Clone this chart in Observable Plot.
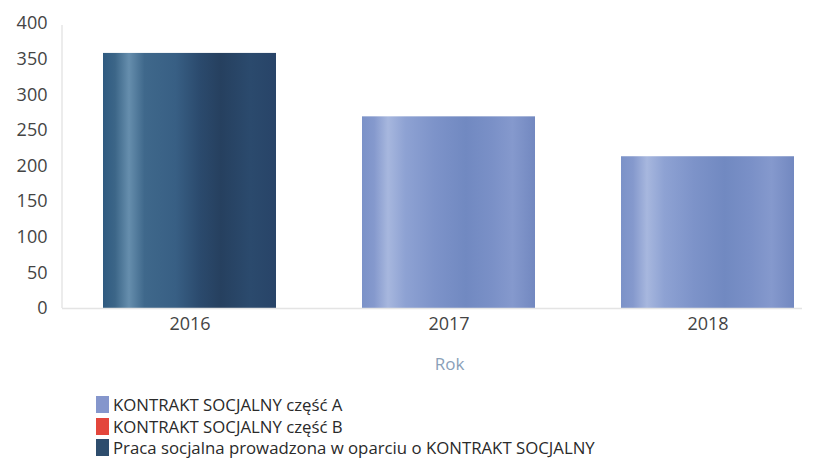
<!DOCTYPE html>
<html>
<head>
<meta charset="utf-8">
<script src="https://cdn.jsdelivr.net/npm/d3@7"></script>
<script src="https://cdn.jsdelivr.net/npm/@observablehq/plot@0.6"></script>
<style>
  html, body { margin: 0; padding: 0; background: #fff; }
  body { width: 822px; height: 461px; overflow: hidden; font-family: "Open Sans", sans-serif; }
  #legend { position: absolute; left: 96px; top: 394px; }
  .item { display: flex; align-items: center; height: 21.5px; font-size: 16.8px; color: #2a2a2a; }
  .sw { width: 13px; height: 17px; margin-right: 4px; }
</style>
</head>
<body>
<svg width="0" height="0" style="position:absolute">
  <defs>
    <linearGradient id="gPraca" x1="0" x2="1" y1="0" y2="0">
      <stop offset="0" stop-color="#2f5a80"/>
      <stop offset="0.07" stop-color="#3c6688"/>
      <stop offset="0.15" stop-color="#668ead"/>
      <stop offset="0.24" stop-color="#3f688b"/>
      <stop offset="0.42" stop-color="#385f84"/>
      <stop offset="0.56" stop-color="#2b4a6d"/>
      <stop offset="0.68" stop-color="#26405f"/>
      <stop offset="0.85" stop-color="#2b4a6d"/>
      <stop offset="1" stop-color="#284468"/>
    </linearGradient>
    <linearGradient id="gA" x1="0" x2="1" y1="0" y2="0">
      <stop offset="0" stop-color="#7b92c8"/>
      <stop offset="0.07" stop-color="#8599cd"/>
      <stop offset="0.15" stop-color="#a7b7de"/>
      <stop offset="0.25" stop-color="#8ea2d3"/>
      <stop offset="0.42" stop-color="#7d93c9"/>
      <stop offset="0.6" stop-color="#7189c1"/>
      <stop offset="0.75" stop-color="#7a90c7"/>
      <stop offset="0.87" stop-color="#8599cd"/>
      <stop offset="1" stop-color="#7288c0"/>
    </linearGradient>
  </defs>
</svg>
<div id="chart"></div>
<div id="legend"></div>
<script>
const years = ["2016", "2017", "2018"];
const seriesNames = [
  "KONTRAKT SOCJALNY część A",
  "KONTRAKT SOCJALNY część B",
  "Praca socjalna prowadzona w oparciu o KONTRAKT SOCJALNY"
];
const seriesColors = ["#8596cc", "#e3463c", "#2e4d6d"];
const seriesFills = ["url(#gA)", "#e3463c", "url(#gPraca)"];
const valuesA = [null, 269, 213];
const valuesB = [null, null, null];
const valuesPraca = [358, null, null];
const yTicks = [0, 50, 100, 150, 200, 250, 300, 350, 400];

const allValues = [valuesA, valuesB, valuesPraca];
const rows = [];
allValues.forEach((vals, si) => {
  vals.forEach((v, i) => {
    if (v != null) rows.push({year: years[i], series: seriesNames[si], si, value: v});
  });
});

const barMarks = seriesNames.map((name, si) =>
  Plot.barY(rows.filter(d => d.si === si), {x: "year", y: "value", fill: seriesFills[si]})
);

const chart = Plot.plot({
  width: 822,
  height: 385,
  marginTop: 23,
  marginBottom: 77,
  marginLeft: 62,
  style: {fontFamily: "Open Sans, sans-serif", fontSize: "18px", color: "#444", background: "transparent"},
  x: {domain: years, range: [62, 835], paddingInner: 0.332, paddingOuter: 0.158, label: null},
  y: {domain: [0, 400], ticks: yTicks, label: null},
  marks: [
    ...barMarks,
    Plot.ruleY([0], {stroke: "#e4e4e4", strokeWidth: 1.5}),
    Plot.axisX({tickSize: 0, tickPadding: 9, fontSize: 18, fill: "#444", label: null}),
    Plot.axisY({ticks: yTicks, tickSize: 0, tickPadding: 15, fontSize: 18, fill: "#444", label: null}),
    Plot.text(["Rok"], {frameAnchor: "bottom", dy: 61, dx: 17, fill: "#8aa0b8", fontSize: 17})
  ]
});
document.getElementById("chart").appendChild(chart);

// vertical axis line
d3.select(chart).append("line").attr("x1", 62).attr("x2", 62).attr("y1", 25).attr("y2", 308)
  .attr("stroke", "#e6e6e6").attr("stroke-width", 1.5);

const legend = document.getElementById("legend");
seriesNames.forEach((name, i) => {
  const it = document.createElement("div");
  it.className = "item";
  it.innerHTML = `<span class="sw" style="background:${seriesColors[i]}"></span><span>${name}</span>`;
  legend.appendChild(it);
});
</script>
</body>
</html>
